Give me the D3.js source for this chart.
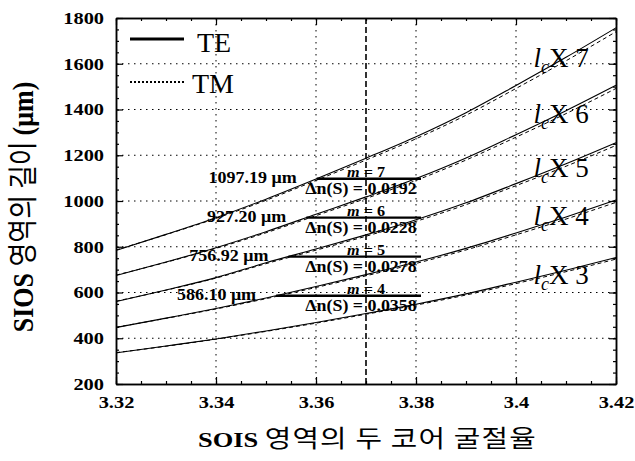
<!DOCTYPE html>
<html>
<head>
<meta charset="utf-8">
<script src="https://cdn.jsdelivr.net/npm/d3@7"></script>
<style>
  body { margin: 0; background: #fff; }
  svg { display: block; }
  text { font-family: "Liberation Serif", "Times New Roman", serif; fill: #000; }
  .kr { font-family: "Noto Sans CJK KR", sans-serif; font-weight: normal; }
</style>
</head>
<body>
<svg id="chart" width="635" height="461"></svg>
<script>
// refractive index of the two SOIS cores
var coreIndex = [3.32, 3.33, 3.34, 3.35, 3.36, 3.37, 3.38, 3.39, 3.40, 3.41, 3.42];

// SIOS length (um), TE and TM, for lc x 3 .. lc x 7
var te3 = [336, 366, 397, 432, 469, 508, 549, 594, 645, 697, 753];
var tm3 = [337, 365, 396, 430, 466, 505, 545, 589, 639, 691, 746];
var te4 = [447, 488, 530, 576, 626, 678, 733, 793, 860, 930, 1004];
var tm4 = [448, 487, 528, 573, 622, 673, 727, 786, 852, 921, 994];
var te5 = [560, 611, 665, 730, 790, 852, 918, 992, 1076, 1163, 1255];
var tm5 = [562, 610, 663, 726, 785, 846, 911, 984, 1067, 1152, 1243];
var te6 = [674, 733, 796, 866, 942, 1018, 1098, 1188, 1290, 1395, 1506];
var tm6 = [676, 732, 793, 861, 936, 1011, 1090, 1179, 1279, 1382, 1492];
var te7 = [784, 854, 927, 1008, 1096, 1187, 1281, 1386, 1505, 1628, 1757];
var tm7 = [786, 853, 924, 1003, 1090, 1179, 1272, 1375, 1492, 1613, 1740];

var multiples = [3, 4, 5, 6, 7];
var teSeries = [te3, te4, te5, te6, te7];
var tmSeries = [tm3, tm4, tm5, tm6, tm7];

// marked points at the chosen index
var markM = [4, 5, 6, 7];
var markLen = [586.10, 756.92, 927.20, 1097.19];
var markDn = ["0.0358", "0.0278", "0.0228", "0.0192"];
var chosenIndex = 3.37;

// where the lc x n labels sit (data units)
var lcLabelAt = [[3.4035, 637], [3.4035, 895], [3.4035, 1105], [3.4035, 1341], [3.4035, 1586]];

var xTicks = [3.32, 3.34, 3.36, 3.38, 3.40, 3.42];
var yTicks = [200, 400, 600, 800, 1000, 1200, 1400, 1600, 1800];

var svg = d3.select("#chart");
var x = d3.scaleLinear().domain([3.32, 3.42]).range([116, 616]);
var y = d3.scaleLinear().domain([200, 1800]).range([384, 18]);
var stretch = "scale(1.2,1)";

// grid
svg.append("g").selectAll("line").data(xTicks.slice(1, -1)).enter().append("line")
  .attr("x1", d => x(d)).attr("x2", d => x(d)).attr("y1", y(1800)).attr("y2", y(200))
  .attr("stroke", "#000").attr("stroke-width", 1).attr("stroke-dasharray", "1.5,4.5");
svg.append("g").selectAll("line").data(yTicks.slice(1, -1)).enter().append("line")
  .attr("y1", d => y(d)).attr("y2", d => y(d)).attr("x1", x(3.32)).attr("x2", x(3.42))
  .attr("stroke", "#000").attr("stroke-width", 1).attr("stroke-dasharray", "1.5,4.5");

// chosen index line
svg.append("line")
  .attr("x1", x(chosenIndex)).attr("x2", x(chosenIndex)).attr("y1", y(1800)).attr("y2", y(200))
  .attr("stroke", "#000").attr("stroke-width", 1.6).attr("stroke-dasharray", "6,3");

// axes (ticks point inward)
var xMinor = d3.range(3.32, 3.4201, 0.005);
var yMinor = d3.range(200, 1801, 50);
function addAxis(axis, tf, vals, size, fmt) {
  var g = svg.append("g").attr("transform", tf)
    .call(axis.tickValues(vals).tickSize(size).tickSizeOuter(0).tickPadding(9)
      .tickFormat(fmt || (() => "")));
  g.select(".domain").attr("stroke-width", 1.5);
  g.selectAll("line").attr("stroke-width", 1.2);
  return g;
}
addAxis(d3.axisBottom(x), "translate(0," + y(200) + ")", xMinor, -3);
addAxis(d3.axisTop(x), "translate(0," + y(1800) + ")", xMinor, -3);
addAxis(d3.axisLeft(y), "translate(" + x(3.32) + ",0)", yMinor, -3);
addAxis(d3.axisRight(y), "translate(" + x(3.42) + ",0)", yMinor, -3);
addAxis(d3.axisTop(x), "translate(0," + y(1800) + ")", xTicks, -7);
addAxis(d3.axisRight(y), "translate(" + x(3.42) + ",0)", yTicks, -7);

var xb = addAxis(d3.axisBottom(x), "translate(0," + y(200) + ")", xTicks, -7, d => String(+d.toFixed(2)));
xb.selectAll("text").attr("font-size", 17).attr("font-weight", "bold")
  .attr("font-family", "Liberation Serif").attr("dy", "0.9em").attr("transform", stretch);
var yl = addAxis(d3.axisLeft(y), "translate(" + x(3.32) + ",0)", yTicks, -7, d3.format("d"));
yl.selectAll("text").attr("font-size", 17).attr("font-weight", "bold")
  .attr("font-family", "Liberation Serif").attr("x", -10).attr("transform", stretch);

// curves
var line = d3.line().x((d, i) => x(coreIndex[i])).y(d => y(d)).curve(d3.curveMonotoneX);
svg.append("g").selectAll("path").data(teSeries).enter().append("path")
  .attr("d", line).attr("fill", "none").attr("stroke", "#000").attr("stroke-width", 1.1);
svg.append("g").selectAll("path").data(tmSeries).enter().append("path")
  .attr("d", line).attr("fill", "none").attr("stroke", "#000").attr("stroke-width", 1)
  .attr("stroke-dasharray", "4,3");

// crossing of a TE curve with a given length
function crossing(vals, v) {
  for (var i = 0; i < vals.length - 1; i++) {
    if (vals[i] <= v && vals[i + 1] >= v) {
      return coreIndex[i] + (v - vals[i]) / (vals[i + 1] - vals[i]) * (coreIndex[i + 1] - coreIndex[i]);
    }
  }
  return coreIndex[0];
}

var marks = svg.append("g");
markM.forEach(function(m, k) {
  var v = markLen[k];
  var x0 = crossing(teSeries[multiples.indexOf(m)], v);
  marks.append("line")
    .attr("x1", x(x0)).attr("x2", x(3.381)).attr("y1", y(v)).attr("y2", y(v))
    .attr("stroke", "#000").attr("stroke-width", 2.4);
  var g1 = marks.append("g").attr("transform", "translate(" + (x(x0) - 20) + "," + (y(v) + 4) + ") scale(1.06,1)");
  g1.append("text").attr("text-anchor", "end").attr("font-size", 17).attr("font-weight", "bold")
    .text(v.toFixed(2) + " \u03bcm");
  var g2 = marks.append("g").attr("transform", "translate(" + x(chosenIndex) + "," + (y(v) - 2) + ") scale(1.08,1)");
  var t2 = g2.append("text").attr("text-anchor", "middle").attr("font-size", 15).attr("font-weight", "bold");
  t2.append("tspan").attr("font-style", "italic").text("m");
  t2.append("tspan").text(" = " + m);
  var g3 = marks.append("g").attr("transform", "translate(" + (x(chosenIndex) - 5) + "," + (y(v) + 15) + ") scale(1.12,1)");
  g3.append("text").attr("text-anchor", "middle").attr("font-size", 16).attr("font-weight", "bold")
    .text("\u0394n(S) = " + markDn[k]);
});

// lc x n labels
multiples.forEach(function(n, k) {
  var t = svg.append("text")
    .attr("x", x(lcLabelAt[k][0])).attr("y", y(lcLabelAt[k][1]))
    .attr("font-size", 27);
  t.append("tspan").attr("font-style", "italic").text("l");
  t.append("tspan").attr("font-style", "italic").attr("font-size", 18).attr("dy", 6).text("c");
  t.append("tspan").attr("dy", -6).text("X " + n);
});

// legend
svg.append("line").attr("x1", 130).attr("x2", 184).attr("y1", 39).attr("y2", 39)
  .attr("stroke", "#000").attr("stroke-width", 3);
svg.append("text").attr("x", 197).attr("y", 52).attr("font-size", 28).text("TE");
svg.append("line").attr("x1", 130).attr("x2", 184).attr("y1", 82).attr("y2", 82)
  .attr("stroke", "#000").attr("stroke-width", 2).attr("stroke-dasharray", "2,2");
svg.append("text").attr("x", 192).attr("y", 93).attr("font-size", 28).text("TM");

// axis titles
var xt = svg.append("g").attr("transform", "translate(198,447) " + stretch)
  .append("text").attr("font-size", 22);
xt.append("tspan").attr("font-weight", "bold").text("SOIS ");
xt.append("tspan").attr("class", "kr").attr("font-size", 24).attr("letter-spacing", 1)
  .text("영역의 두 코어 굴절율");

var yt = svg.append("g").attr("transform", "translate(33,207) rotate(-90) scale(1,1.15)")
  .append("text").attr("text-anchor", "middle").attr("font-size", 26);
yt.append("tspan").attr("font-weight", "bold").text("SIOS ");
yt.append("tspan").attr("class", "kr").text("영역의 길이 ");
yt.append("tspan").attr("font-weight", "bold").text("(\u03bcm)");
</script>
</body>
</html>
